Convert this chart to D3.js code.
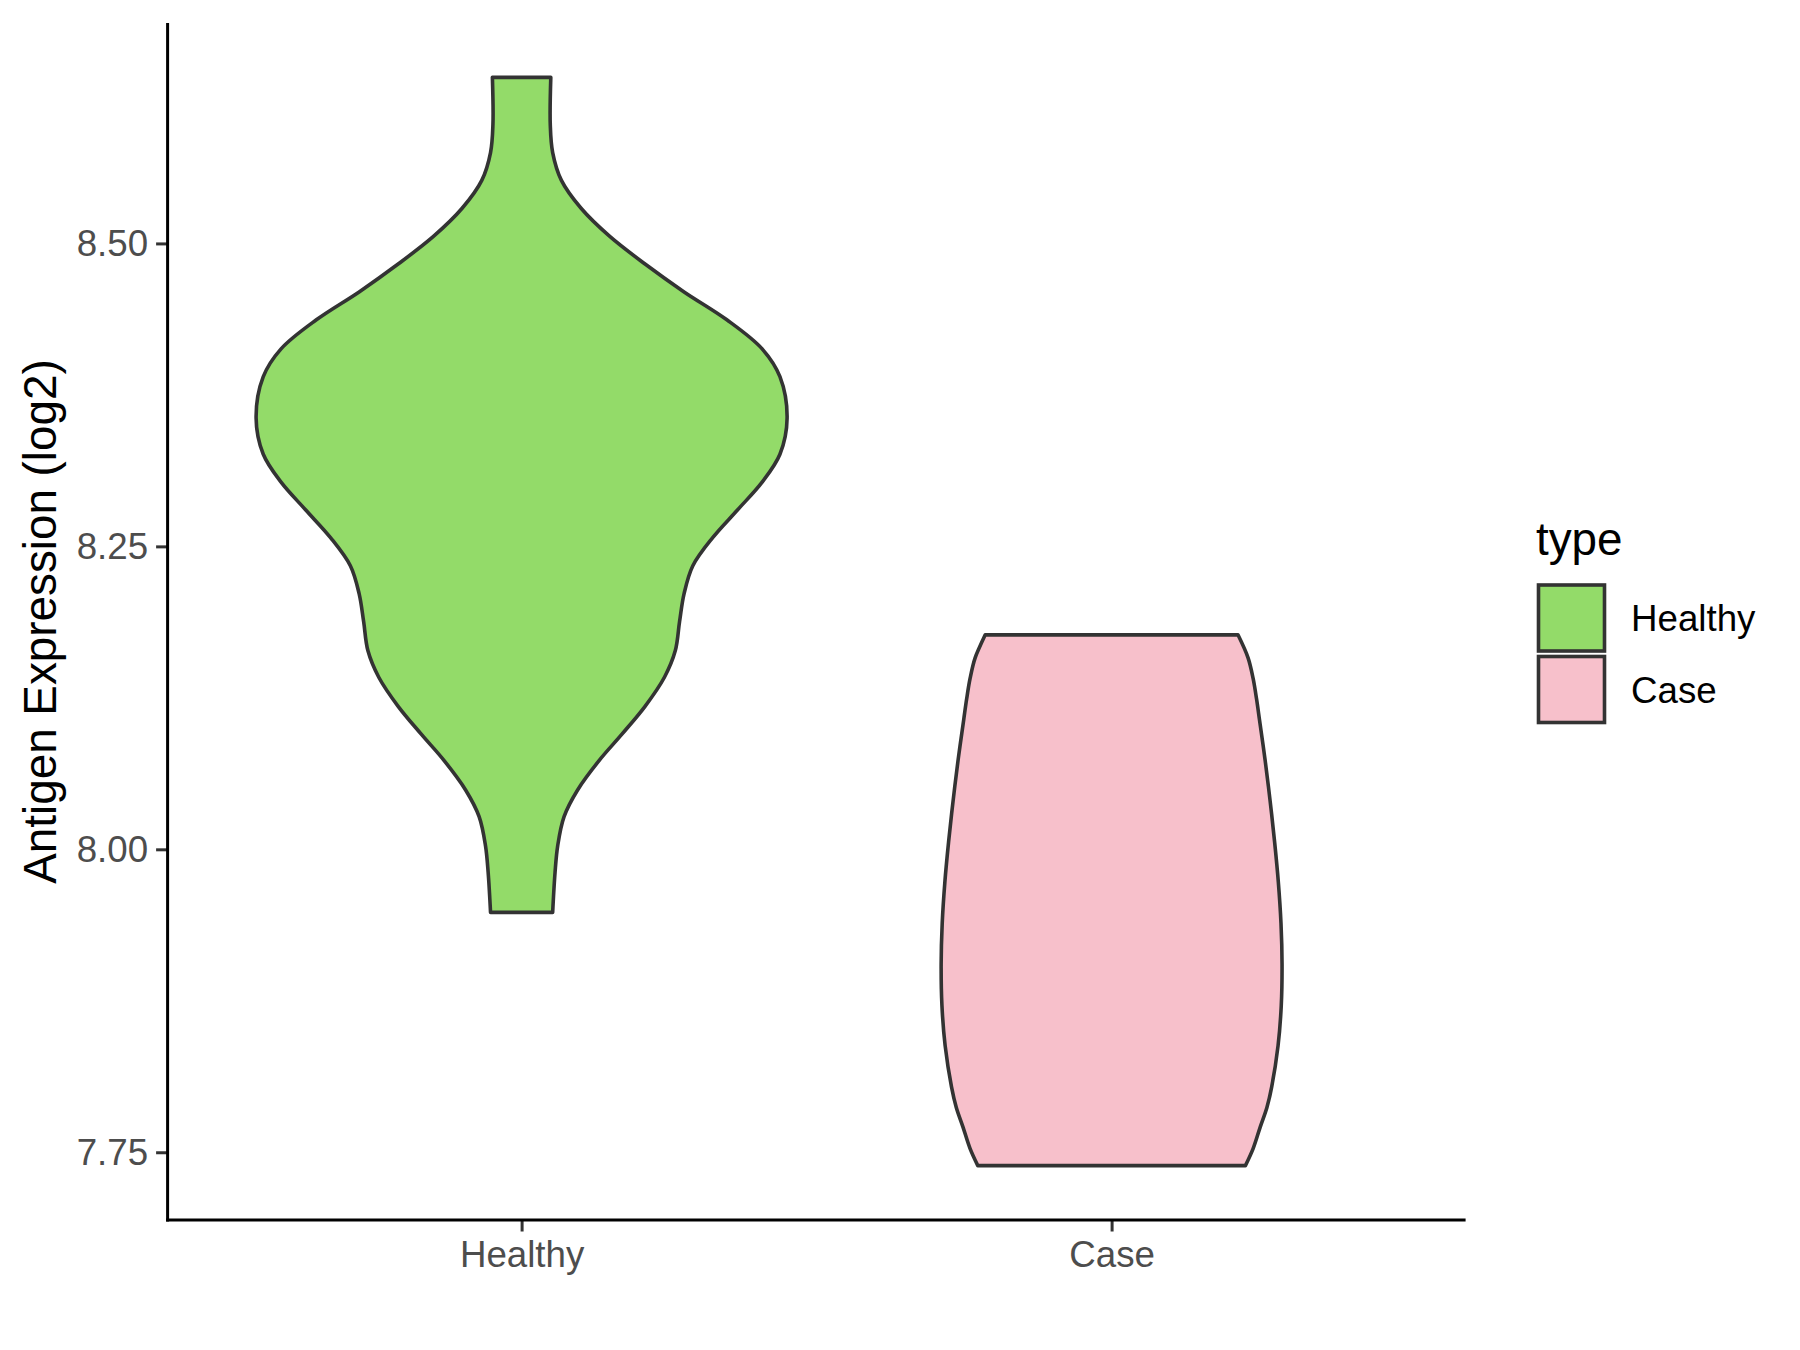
<!DOCTYPE html>
<html>
<head>
<meta charset="utf-8">
<script src="https://cdn.jsdelivr.net/npm/d3@7"></script>
<style>
  html, body { margin: 0; padding: 0; background: #ffffff; }
  svg { display: block; }
  text { font-family: "Liberation Sans", Arial, sans-serif; }
</style>
</head>
<body>
<svg id="chart" width="1800" height="1350"></svg>
<script>
// ---- data ----
const categories = ["Healthy", "Case"];
const fills = ["#93DB69", "#F7C0CB"];
const yTicks = [7.75, 8.00, 8.25, 8.50];
const yTickLabels = ["7.75", "8.00", "8.25", "8.50"];

// Healthy violin: value (log2) and relative density
const healthyValues = [8.637, 8.598, 8.575, 8.552, 8.529, 8.506, 8.483, 8.460, 8.437, 8.413, 8.390, 8.356,
  8.326, 8.303, 8.280, 8.257, 8.234, 8.211, 8.188, 8.164, 8.142, 8.118, 8.095, 8.073, 8.049, 8.027, 8.003, 7.981, 7.948];
const healthyDensity = [0.110, 0.108, 0.117, 0.150, 0.224, 0.331, 0.465, 0.612, 0.773, 0.906, 0.973, 1.000,
  0.973, 0.906, 0.813, 0.719, 0.645, 0.612, 0.595, 0.579, 0.538, 0.465, 0.378, 0.291, 0.211, 0.160, 0.136, 0.126, 0.117];

// Case violin: value (log2) and relative density
const caseValues = [8.177, 8.158, 8.141, 8.124, 8.107, 8.074, 8.040, 8.006, 7.973, 7.939, 7.905, 7.871,
  7.838, 7.804, 7.787, 7.771, 7.753, 7.739];
const caseDensity = [0.476, 0.514, 0.533, 0.546, 0.557, 0.578, 0.597, 0.614, 0.628, 0.638, 0.642, 0.639,
  0.627, 0.603, 0.585, 0.560, 0.533, 0.504];

const legendTitle = "type";
const yTitle = "Antigen Expression (log2)";

// ---- layout ----
const svg = d3.select("#chart");
const plot = { left: 167.6, right: 1465.6, top: 23, bottom: 1220 };

const violins = [
  { cat: categories[0], values: healthyValues, dens: healthyDensity, fill: fills[0] },
  { cat: categories[1], values: caseValues, dens: caseDensity, fill: fills[1] }
];

// y scale with ggplot-like 5% expansion
const allVals = healthyValues.concat(caseValues);
const vmin = d3.min(allVals), vmax = d3.max(allVals);
const pad = (vmax - vmin) * 0.05;
const y = d3.scaleLinear().domain([vmin - pad, vmax + pad]).range([plot.bottom, plot.top]);

// x: discrete with 0.6 unit expansion
const x = d3.scalePoint().domain(categories).range([plot.left, plot.right]).padding(0.6);
const step = x.step();
const maxDens = d3.max(healthyDensity.concat(caseDensity));
const w = d3.scaleLinear().domain([0, maxDens]).range([0, step * 0.9 / 2]);

// violins
violins.forEach(v => {
  const cx = x(v.cat);
  const pts = v.values.map((val, i) => ({ val, d: v.dens[i] }));
  const area = d3.area()
    .y(p => y(p.val))
    .x0(p => cx - w(p.d))
    .x1(p => cx + w(p.d))
    .curve(d3.curveCatmullRom.alpha(0.5));
  svg.append("path")
    .attr("d", area(pts))
    .attr("fill", v.fill)
    .attr("stroke", "#333333")
    .attr("stroke-width", 3.6)
    .attr("stroke-linejoin", "round");
});

// y axis
const yAxis = d3.axisLeft(y).tickValues(yTicks).tickFormat((d, i) => yTickLabels[i])
  .tickSizeInner(11.5).tickSizeOuter(0).tickPadding(8);
const gy = svg.append("g").attr("transform", `translate(${plot.left},0)`).call(yAxis);
gy.select(".domain").remove();
gy.selectAll(".tick line").attr("stroke", "#333333").attr("stroke-width", 3);
gy.selectAll(".tick text").attr("fill", "#4D4D4D").style("font-size", "36.7px")
  .style("font-family", "'Liberation Sans', Arial, sans-serif");

// x axis
const xAxis = d3.axisBottom(x).tickSizeInner(11.5).tickSizeOuter(0).tickPadding(8);
const gx = svg.append("g").attr("transform", `translate(0,${plot.bottom})`).call(xAxis);
gx.select(".domain").remove();
gx.selectAll(".tick line").attr("stroke", "#333333").attr("stroke-width", 3);
gx.selectAll(".tick text").attr("fill", "#4D4D4D").style("font-size", "36.7px")
  .style("font-family", "'Liberation Sans', Arial, sans-serif")
  .attr("y", 47).attr("dy", 0);

// axis lines
svg.append("line").attr("x1", plot.left).attr("x2", plot.left)
  .attr("y1", plot.top).attr("y2", plot.bottom + 1.5)
  .attr("stroke", "#000").attr("stroke-width", 3);
svg.append("line").attr("x1", plot.left - 1.5).attr("x2", plot.right)
  .attr("y1", plot.bottom).attr("y2", plot.bottom)
  .attr("stroke", "#000").attr("stroke-width", 3);

// y title
svg.append("text")
  .attr("transform", `translate(55.5,${(plot.top + plot.bottom) / 2}) rotate(-90)`)
  .attr("text-anchor", "middle")
  .attr("fill", "#000")
  .style("font-size", "45.8px")
  .text(yTitle);

// legend
const leg = svg.append("g");
leg.append("text").attr("x", 1536).attr("y", 555).attr("fill", "#000")
  .style("font-size", "45.8px").text(legendTitle);
const keySize = 66;
categories.forEach((c, i) => {
  const ky = 585 + i * 71.5;
  leg.append("rect").attr("x", 1538.5).attr("y", ky).attr("width", keySize).attr("height", keySize)
    .attr("fill", fills[i]).attr("stroke", "#333333").attr("stroke-width", 3.6);
  leg.append("text").attr("x", 1631).attr("y", ky + keySize / 2 + 13).attr("fill", "#000")
    .style("font-size", "36.7px").text(c);
});
</script>
</body>
</html>
